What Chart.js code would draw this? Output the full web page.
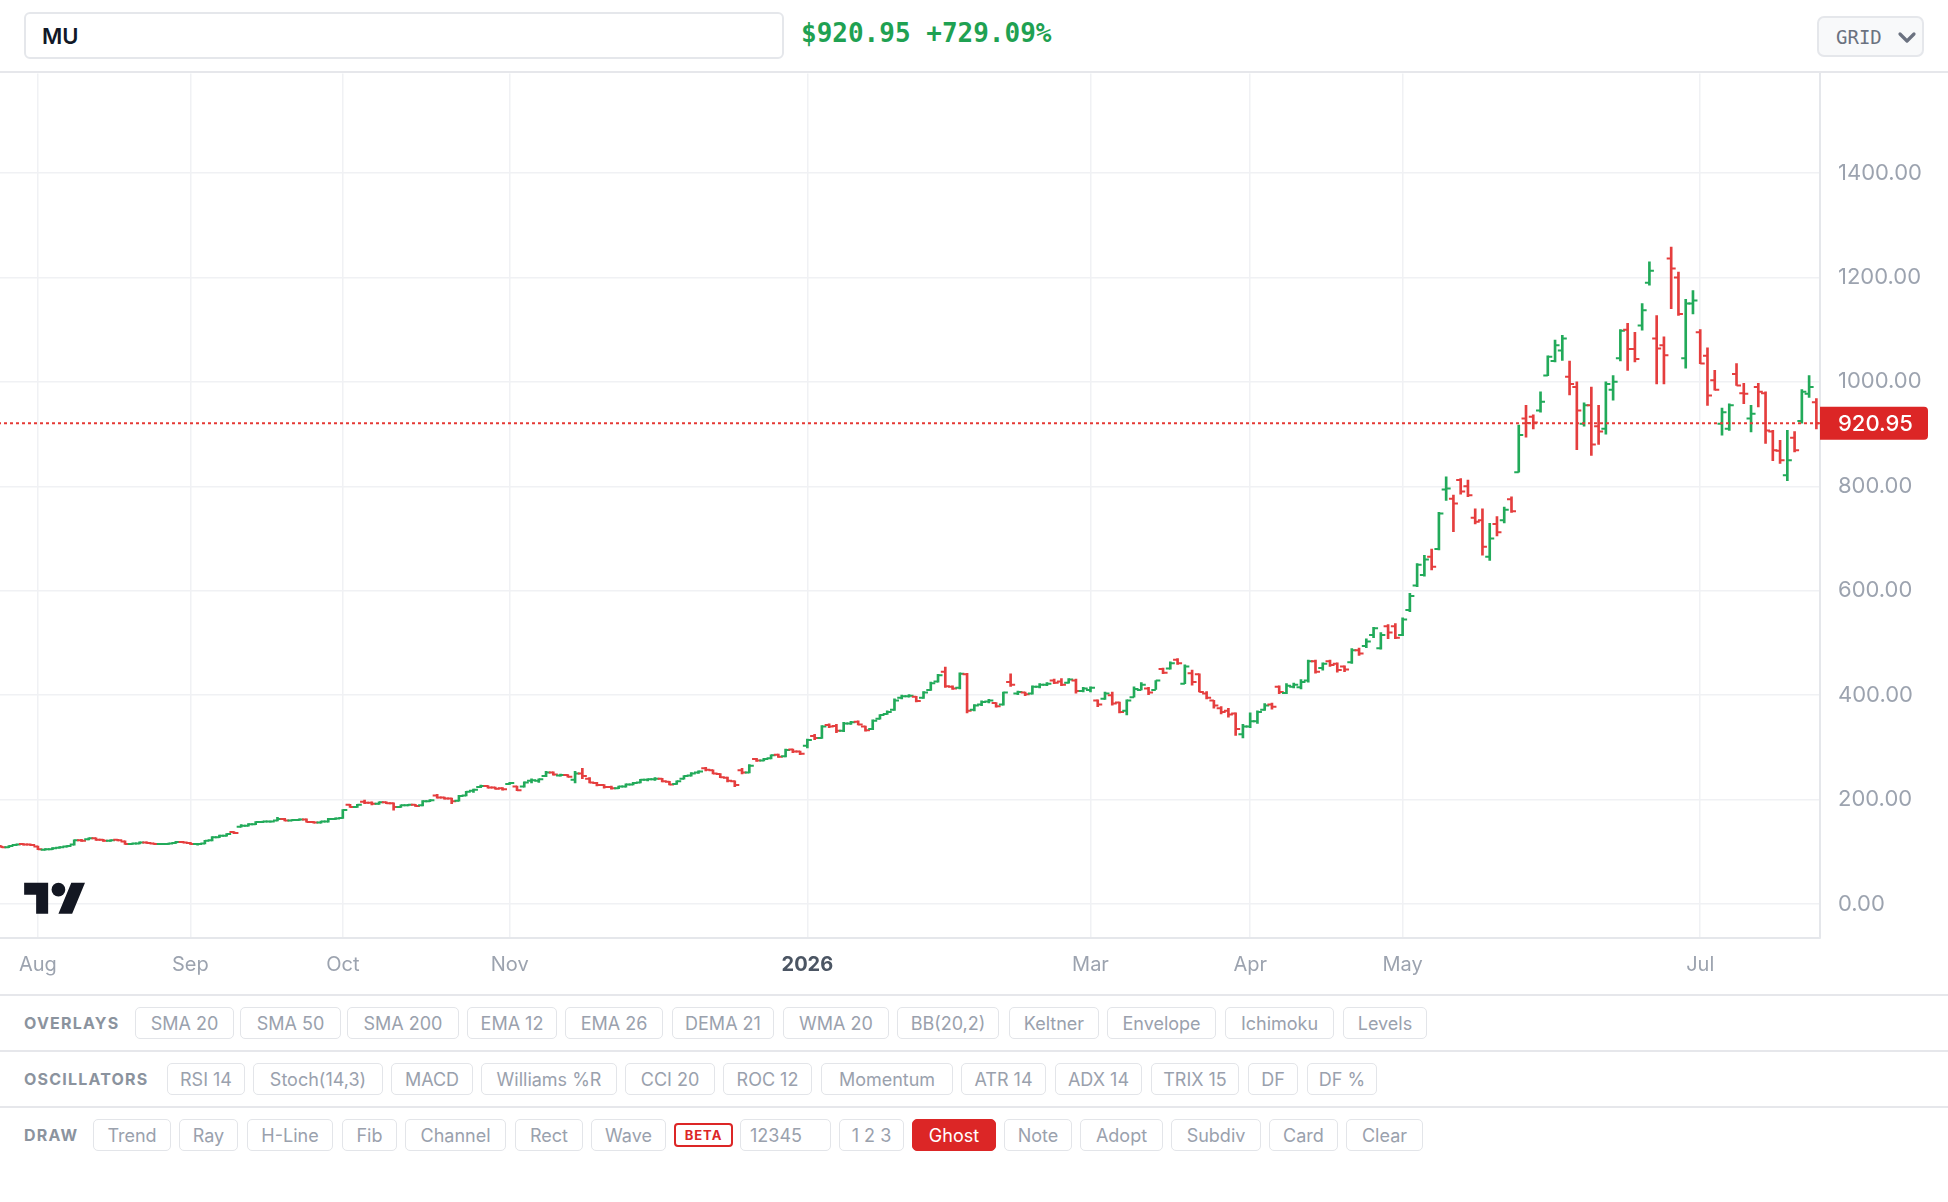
<!DOCTYPE html>
<html>
<head>
<meta charset="utf-8">
<script src="https://cdn.jsdelivr.net/npm/chart.js@4.4.1/dist/chart.umd.min.js"></script>
<style>
  html, body { margin: 0; padding: 0; background: #fff; width: 1948px; height: 1202px; overflow: hidden; font-family: Inter, sans-serif; }
  #top { position: absolute; left: 0; top: 0; width: 1948px; height: 73px; border-bottom: 2px solid #e6e7eb; box-sizing: border-box; }
  #sym { position: absolute; left: 24px; top: 12px; width: 760px; height: 47px; box-sizing: border-box; border: 2px solid #e5e7eb; border-radius: 6px; padding-left: 16px; display: flex; align-items: center; font: 600 22px Inter, sans-serif; color: #111827; }
  #quote { position: absolute; left: 801px; top: 18px; font: bold 26px "DejaVu Sans Mono", monospace; color: #1fa152; white-space: nowrap; }
  #grid { position: absolute; left: 1817px; top: 16px; width: 107px; height: 41px; box-sizing: border-box; border: 2px solid #e5e7eb; border-radius: 7px; background: #f8f9fa; font: 19px "DejaVu Sans Mono", monospace; color: #6b7280; }
  #grid span { position: absolute; left: 17px; top: 8px; }
  #grid svg { position: absolute; left: 78px; top: 13px; }
  #wrap { position: absolute; left: -2px; top: 73px; width: 1950px; height: 921px; }
  #logo { position: absolute; left: 24px; top: 876px; }
  .sep { position: absolute; left: 0; width: 1948px; height: 2px; background: #e6e7eb; }
  .lab { position: absolute; left: 24px; font: 700 16px Inter, sans-serif; letter-spacing: 1.2px; color: #8b939e; }
  .btn { position: absolute; box-sizing: border-box; height: 32px; border: 1.5px solid #e3e5e9; border-radius: 5px; display: flex; align-items: center; justify-content: center; font: 400 18px Inter, sans-serif; color: #9aa1ad; background: #fff; white-space: nowrap; }
  .btn.input { justify-content: flex-start; padding-left: 9px; }
  .btn.active { background: #dc2626; border-color: #dc2626; color: #fff; }
  .btn.beta { height: 24px; border: 2px solid #dc2626; border-radius: 4px; color: #dc2626; font: 700 13px Inter, sans-serif; letter-spacing: 1px; }
</style>
</head>
<body>
<div id="top">
  <div id="sym">MU</div>
  <div id="quote">$920.95 +729.09%</div>
  <div id="grid"><span>GRID</span>
    <svg width="20" height="14" viewBox="0 0 20 14"><path d="M3 3 L10 10 L17 3" fill="none" stroke="#6b7280" stroke-width="3.2" stroke-linecap="round" stroke-linejoin="round"/></svg>
  </div>
</div>
<div id="wrap"><canvas id="chart" width="1950" height="921"></canvas></div>
<svg id="logo" width="62" height="48" viewBox="0 0 36 28"><path fill="#131722" d="M14 22H7V11H0V4h14v18zM28 22h-8l7.5-18h8L28 22z"/><circle fill="#131722" cx="20" cy="8" r="4"/></svg>
<div id="toolbar"></div>
<script>
// daily OHLC, Jul 25 2025 .. Jul 24 2026 (251 sessions)
const opens = [
  111,109,113,115,114,110,104,105,108,110, 114,122,124,126,123,121,123,120,115,116,
  118,116,115,115,117,119,117,115,116,122, 128,131,138,148,150,153,157,158,160,163,
  160,161,162,157,156,158,163,165,190,186, 196,194,192,195,193,186,189,190,189,197,
  208,204,202,198,208,217,224,226,223,222, 230,225,225,236,236,245,252,246,247,238,
  250,240,232,228,224,222,225,229,233,238, 239,240,234,230,240,246,252,260,256,249,
  242,235,256,252,278,275,279,286,283,296, 292,303,322,318,343,341,332,346,349,340,
  335,355,364,372,395,398,397,395,410,426, 445,416,414,440,372,382,388,385,382,425,
  403,405,403,416,420,428,426,424,428,408, 410,390,393,400,386,370,396,410,413,410,
  450,451,468,422,442,440,403,390,375,370, 365,325,340,350,372,382,416,404,416,415,
  428,465,452,465,460,455,463,486,494,515, 490,532,532,515,563,610,630,665,680,794,
  776,812,800,740,735,665,728,735,775,827, 930,933,945,1012,1040,1060,1010,990,920,955,
  915,910,985,1045,1100,1063,1108,1190,1083,1070, 1236,1200,1045,1150,1095,1050,1003,920,910,1015,
  978,930,990,978,905,868,821,893,925,977,961
];
const highs = [
  111,112,115,116,115,111,106,108,110,112, 123,124,127,127,124,123,124,121,117,119,
  119,117,116,117,120,120,118,116,122,129, 132,135,139,152,154,158,159,159,166,164,
  162,163,163,158,159,164,165,181,191,191, 199,196,196,196,194,190,191,191,198,200,
  210,205,203,208,216,220,228,227,224,223, 233,226,234,240,240,254,253,249,248,254,
  260,242,233,229,226,226,230,233,239,240, 242,241,235,236,246,252,255,262,257,250,
  243,236,260,267,279,279,286,287,297,297, 293,316,325,342,345,344,348,350,351,341,
  353,363,370,393,400,401,398,407,425,440, 454,418,443,442,382,389,392,386,406,441,
  408,406,418,422,424,431,432,432,431,415, 416,391,406,406,387,391,416,424,415,428,
  452,464,470,458,448,441,407,390,378,375, 366,344,366,370,384,385,418,422,423,430,
  467,467,462,467,462,456,489,490,508,530, 520,535,537,548,595,652,668,680,750,818,
  783,815,812,757,757,729,742,760,780,917, 955,937,981,1050,1080,1089,1040,1000,960,990,
  955,1000,1012,1100,1112,1095,1150,1230,1127,1086, 1258,1210,1158,1175,1100,1065,1022,950,958,1035,
  997,955,997,981,907,888,907,905,985,1012,968
];
const lows = [
  108,108,112,113,112,104,103,104,107,109, 113,120,123,122,120,120,121,114,114,115,
  116,114,114,114,116,117,114,113,115,121, 127,130,135,147,149,152,156,157,159,159,
  159,160,157,155,155,157,162,164,185,185, 192,190,191,192,180,185,188,187,188,196,
  203,201,192,197,207,214,223,222,220,218, 229,217,224,232,233,244,247,245,243,232,
  240,232,226,222,220,221,224,228,232,236, 237,234,228,229,239,245,250,255,249,242,
  234,225,249,251,273,274,278,281,282,290, 286,299,315,317,338,328,330,344,343,331,
  334,354,363,371,393,396,387,394,409,425, 415,411,412,366,370,380,385,377,381,417,
  401,399,402,414,418,422,418,423,404,406, 406,378,392,381,366,362,396,410,401,411,
  441,450,459,422,419,406,393,375,364,358, 323,318,338,346,371,373,403,403,414,412,
  425,442,448,455,444,445,461,476,491,510, 488,508,508,514,560,608,628,640,678,773,
  713,785,780,728,668,658,705,730,750,827, 894,910,942,1012,1038,1041,975,870,915,859,
  880,900,965,1040,1022,1038,1099,1185,996,996, 1140,1127,1026,1130,1035,955,984,898,907,993,
  958,904,952,882,849,844,811,866,921,970,910
];
const closes = [
  109,111,114,114,113,105,105,107,109,111, 122,121,126,123,121,122,122,115,116,118,
  117,115,115,116,119,118,115,115,121,128, 131,134,136,150,153,157,158,158,163,160,
  161,162,157,156,158,163,164,180,186,190, 194,192,195,193,186,189,190,188,197,199,
  204,202,197,207,215,219,226,223,221,220, 232,218,233,237,239,252,248,247,244,250,
  245,233,228,224,222,225,229,232,238,239, 240,235,229,235,245,250,254,257,250,243,
  236,228,252,265,275,278,285,282,295,292, 288,314,318,340,340,332,346,348,344,333,
  351,362,368,390,398,399,389,405,423,438, 417,413,441,370,380,387,390,379,405,420,
  406,402,416,420,422,424,420,430,408,413, 414,382,403,384,368,390,412,420,405,428,
  443,461,461,455,425,406,395,380,368,363, 335,340,350,368,380,378,406,418,420,425,
  465,445,460,458,448,449,486,480,503,528, 515,520,510,545,590,650,660,646,748,796,
  767,790,783,732,684,700,712,755,752,898, 921,922,962,1048,1070,1083,996,945,955,880,
  905,996,1000,1098,1063,1044,1137,1213,1064,1051, 1217,1130,1150,1156,1035,974,985,942,955,993,
  977,939,981,907,869,850,850,869,981,990,920.95
];

// month ticks on the time axis (bar index where each month starts)
const monthIdx = [5, 26, 47, 70, 111, 150, 172, 193, 234];
const monthLabels = ['Aug', 'Sep', 'Oct', 'Nov', '2026', 'Mar', 'Apr', 'May', 'Jul'];
const priceTicks = [0, 200, 400, 600, 800, 1000, 1200, 1400];

const UP = '#22aa5a';
const DOWN = '#e53e3e';
const barColors = closes.map((c, i) => c >= opens[i] ? UP : DOWN);
const lastClose = closes[closes.length - 1];

const ohlcTicks = {
  id: 'ohlcTicks',
  afterDatasetsDraw(chart) {
    const { ctx, chartArea: a, scales: { x, y } } = chart;
    ctx.save();
    ctx.beginPath();
    ctx.rect(a.left, a.top, a.right - a.left, a.bottom - a.top);
    ctx.clip();
    ctx.lineWidth = 2;
    opens.forEach((o, i) => {
      const px = x.getPixelForValue(i);
      const yo = y.getPixelForValue(o);
      const yc = y.getPixelForValue(closes[i]);
      ctx.strokeStyle = barColors[i];
      ctx.beginPath();
      ctx.moveTo(px - 4.5, yo); ctx.lineTo(px, yo);
      ctx.moveTo(px, yc); ctx.lineTo(px + 4.5, yc);
      ctx.stroke();
    });
    // last price line
    const yl = y.getPixelForValue(lastClose);
    ctx.setLineDash([3, 3]);
    ctx.strokeStyle = '#e53935';
    ctx.beginPath();
    ctx.moveTo(a.left, yl); ctx.lineTo(a.right, yl);
    ctx.stroke();
    ctx.restore();
  },
  afterDraw(chart) {
    const { ctx, chartArea: a, scales: { y } } = chart;
    const yl = y.getPixelForValue(lastClose);
    ctx.save();
    ctx.fillStyle = '#dc2626';
    ctx.beginPath();
    ctx.roundRect(a.right, yl - 16.5, 108, 33, [0, 4, 4, 0]);
    ctx.fill();
    ctx.fillStyle = '#fff';
    ctx.font = '500 22px Inter';
    ctx.textBaseline = 'middle';
    ctx.fillText(lastClose.toFixed(2), a.right + 18, yl + 1);
    ctx.restore();
  }
};

new Chart(document.getElementById('chart'), {
  type: 'bar',
  data: {
    labels: opens.map((_, i) => i),
    datasets: [{
      data: lows.map((l, i) => [l, highs[i]]),
      backgroundColor: barColors,
      barThickness: 2,
      borderWidth: 0
    }]
  },
  options: {
    responsive: false,
    animation: false,
    layout: { padding: 0 },
    plugins: { legend: { display: false }, tooltip: { enabled: false } },
    scales: {
      x: {
        type: 'category',
        offset: true,
        afterBuildTicks: (s) => { s.ticks = monthIdx.map(v => ({ value: v })); },
        afterFit: (s) => { s.height = 56; },
        grid: { color: '#f0f1f4', lineWidth: 1.5, offset: false, drawTicks: false },
        border: { color: '#e5e7eb', width: 2 },
        ticks: {
          autoSkip: false,
          maxRotation: 0,
          padding: 15,
          callback: (v, i) => monthLabels[i],
          font: (c) => ({ family: 'Inter', size: 20, weight: monthLabels[c.index] === '2026' ? '700' : '400' }),
          color: (c) => monthLabels[c.index] === '2026' ? '#4b5563' : '#9ca3af'
        }
      },
      y: {
        position: 'right',
        min: -65,
        max: 1590.4,
        bounds: 'data',
        afterBuildTicks: (s) => { s.ticks = priceTicks.map(v => ({ value: v })); },
        afterFit: (s) => { s.width = 128; },
        grid: { color: '#f0f1f4', lineWidth: 1.5, drawTicks: true, tickLength: 18, tickColor: 'rgba(0,0,0,0)' },
        border: { color: '#e5e7eb', width: 2 },
        ticks: {
          padding: 0,
          font: { family: 'Inter', size: 22, lineHeight: 0.05 },
          color: '#9ca3af',
          callback: (v) => Number(v).toFixed(2)
        }
      }
    }
  },
  plugins: [ohlcTicks]
});

// toolbar rows: [text, left, width, kind]
const rows = [
  { label: 'OVERLAYS', top: 996, items: [['SMA 20',135,99],['SMA 50',240,101],['SMA 200',347,112],['EMA 12',467,90],['EMA 26',565,98],['DEMA 21',672,102],['WMA 20',783,106],['BB(20,2)',897,102],['Keltner',1009,90],['Envelope',1107,109],['Ichimoku',1225,109],['Levels',1343,84]] },
  { label: 'OSCILLATORS', top: 1052, items: [['RSI 14',167,78],['Stoch(14,3)',253,130],['MACD',391,82],['Williams %R',481,136],['CCI 20',625,90],['ROC 12',723,89],['Momentum',821,132],['ATR 14',961,85],['ADX 14',1055,87],['TRIX 15',1151,88],['DF',1248,50],['DF %',1307,70]] },
  { label: 'DRAW', top: 1108, items: [['Trend',93,78],['Ray',179,59],['H-Line',247,86],['Fib',342,55],['Channel',405,101],['Rect',515,68],['Wave',591,75],['BETA',674,59,'beta'],['12345',740,91,'input'],['1 2 3',839,65],['Ghost',912,84,'active'],['Note',1004,68],['Adopt',1080,83],['Subdiv',1171,90],['Card',1269,69],['Clear',1346,77]] }
];
const bar = document.getElementById('toolbar');
let html = '<div class="sep" style="top:994px"></div><div class="sep" style="top:1050px"></div><div class="sep" style="top:1106px"></div>';
rows.forEach(r => {
  html += `<div class="lab" style="top:${r.top + 17}px">${r.label}</div>`;
  r.items.forEach(([t, l, w, k]) => {
    const top = k === 'beta' ? r.top + 15 : r.top + 11;
    html += `<div class="btn ${k || ''}" style="left:${l}px;top:${top}px;width:${w}px">${t}</div>`;
  });
});
bar.innerHTML = html;
</script>
</body>
</html>
